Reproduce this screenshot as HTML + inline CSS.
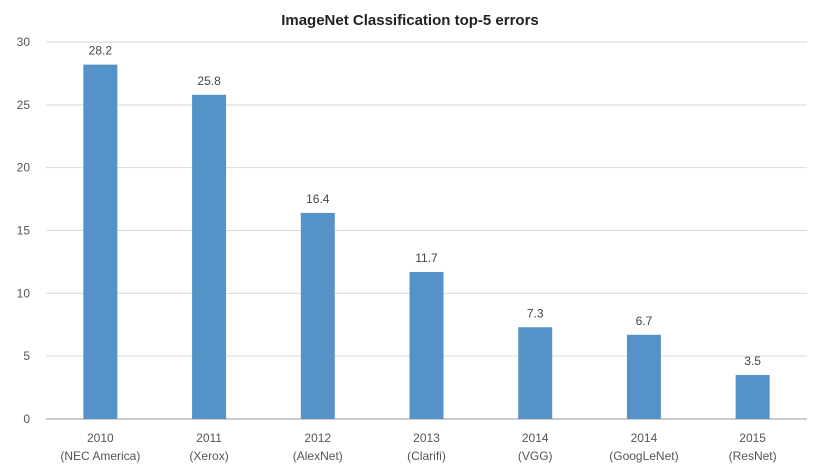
<!DOCTYPE html>
<html><head><meta charset="utf-8"><style>
body{margin:0;background:#fff;}
svg{display:block;font-family:"Liberation Sans",sans-serif;}
</style></head><body>
<svg id="chart" width="825" height="464">
<text x="410" y="25" text-anchor="middle" font-size="15" font-weight="bold" fill="#222">ImageNet Classification top-5 errors</text>
<g id="grid"></g><g id="bars"></g>
</svg>
<script>
const categories=["2010","2011","2012","2013","2014","2014","2015"];
const subLabels=["(NEC America)","(Xerox)","(AlexNet)","(Clarifi)","(VGG)","(GoogLeNet)","(ResNet)"];
const values=[28.2,25.8,16.4,11.7,7.3,6.7,3.5];
const valueLabels=["28.2","25.8","16.4","11.7","7.3","6.7","3.5"];
const yTicks=[0,5,10,15,20,25,30];
const NS="http://www.w3.org/2000/svg";
const L=46,R=807,T=42,B=419;
const y=v=>B-(v/30)*(B-T);
const band=(R-L)/categories.length;
const x=i=>L+band*(i+0.5);
function mk(tag,attrs,parent,text){const e=document.createElementNS(NS,tag);for(const k in attrs)e.setAttribute(k,attrs[k]);if(text!==undefined)e.textContent=text;parent.appendChild(e);return e;}
const g=document.getElementById('grid'),bg=document.getElementById('bars');
yTicks.forEach(t=>{
 const ln=mk('line',{x1:L,x2:R,y1:y(t),y2:y(t),stroke:t===0?'#bbb':'#d9d9d9','stroke-width':t===0?1.5:1},g);
 
 
 const tx=mk('text',{x:30,y:y(t)+4,'text-anchor':'end','font-size':12,fill:'#555'},g,String(t));
 
 
});
values.forEach((v,i)=>{
 const bw=34;
 const r=mk('rect',{x:x(i)-bw/2,y:y(v),width:bw,height:B-y(v),fill:'#5592c8'},bg);
 
 
 const vl=mk('text',{x:x(i),y:y(v)-10,'text-anchor':'middle','font-size':12,fill:'#444'},bg,valueLabels[i]);
 
 
 const c=mk('text',{x:x(i),y:442,'text-anchor':'middle','font-size':12,fill:'#555'},bg,categories[i]);
 
 
 const s=mk('text',{x:x(i),y:460,'text-anchor':'middle','font-size':12,fill:'#555'},bg,subLabels[i]);
 
 
});
</script>
</body></html>
